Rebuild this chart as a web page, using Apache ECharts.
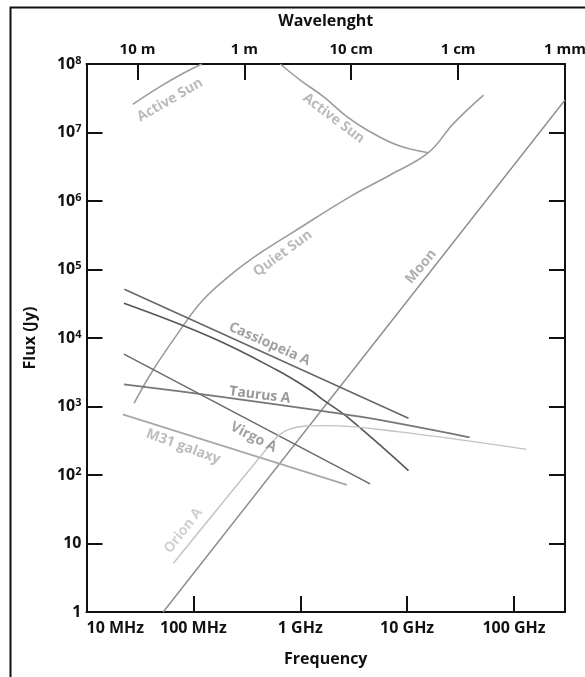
<!DOCTYPE html>
<html>
<head>
<meta charset="utf-8">
<script src="https://cdn.jsdelivr.net/npm/echarts@6/dist/echarts.min.js"></script>
<style>
html,body{margin:0;padding:0;background:#fff;}
#chart{width:585px;height:677px;}
</style>
</head>
<body>
<div id="chart"></div>
<script>
// ---------- tick values / labels ----------
const freqTicks = [1e7, 1e8, 1e9, 1e10, 1e11];                 // Hz
const freqTickLabels = ['10 MHz', '100 MHz', '1 GHz', '10 GHz', '100 GHz'];
const waveTicks = [3e7, 3e8, 3e9, 3e10, 3e11];                 // Hz equivalent of wavelength
const waveTickLabels = ['10 m', '1 m', '10 cm', '1 cm', '1 mm'];
const fluxTicks = [1, 10, 1e2, 1e3, 1e4, 1e5, 1e6, 1e7, 1e8]; // Jy
const freqMin = 1e7, freqMax = 3e11, fluxMin = 1, fluxMax = 1e8;

// ---------- series (frequency in Hz, flux in Jy) ----------
const activeSunLowFreq  = [2.71e7, 4.88e7, 8.05e7, 1.20e8];
const activeSunLowFlux  = [2.58e7, 4.67e7, 7.31e7, 1.0e8];
const activeSunHighFreq = [6.49e8, 9.98e8, 1.65e9, 2.73e9, 4.21e9, 8.04e9, 1.58e10];
const activeSunHighFlux = [1.0e8, 5.83e7, 3.33e7, 1.70e7, 1.09e7, 6.56e6, 5.07e6];
const quietSunFreq = [2.79e7, 4.20e7, 7.00e7, 1.23e8, 2.55e8, 4.21e8, 8.59e8, 2.93e9, 6.93e9, 1.58e10, 2.72e10, 5.19e10];
const quietSunFlux = [1.12e3, 3.41e3, 1.11e4, 3.59e4, 9.84e4, 1.74e5, 3.52e5, 1.16e6, 2.40e6, 5.07e6, 1.36e7, 3.52e7];
const moonFreq = [5.22e7, 3.0e11];
const moonFlux = [1, 2.98e7];
const cassiopeiaFreq = [2.26e7, 1.03e10];
const cassiopeiaFlux = [5.14e4, 673];
const secondSourceFreq = [2.24e7, 1.43e8, 6.04e8, 1.24e9, 1.65e9, 2.73e9, 1.03e10];
const secondSourceFlux = [3.21e4, 1.04e4, 3.41e3, 1.74e3, 1.24e3, 710, 116];
const taurusFreq = [2.24e7, 2.06e8, 3.64e9, 3.84e10];
const taurusFlux = [2.11e3, 1.35e3, 710, 355];
const virgoFreq = [2.24e7, 4.50e9];
const virgoFlux = [5.83e3, 74];
const m31Freq = [2.18e7, 2.73e9];
const m31Flux = [769, 72];
const orionFreq = [6.50e7, 4.22e8, 6.31e8, 7.94e8, 1.12e9, 1.78e9, 8.04e9, 1.30e11];
const orionFlux = [5.14, 185, 380, 468, 519, 525, 429, 237];

// label texts and their anchor points (Hz, Jy) with text angle
const labelTexts  = ['Active Sun', 'Active Sun', 'Quiet Sun', 'Moon', 'Cassiopeia A', 'Taurus A', 'Virgo A', 'M31 galaxy', 'Orion A'];
const labelFreq   = [6.05e7, 2.05e9, 6.87e8, 1.35e10, 5.15e8, 4.19e8, 3.65e8, 8.05e7, 8.05e7];
const labelFlux   = [2.98e7, 1.61e7, 1.72e5, 1.10e5, 8.17e3, 1.47e3, 355, 259, 15.4];
const labelAngle  = [30, -37, 36, 50, -24, -7, -27, -20, 52];
const labelColors = ['#a9a9a9', '#a9a9a9', '#a9a9a9', '#9a9a9a', '#8a8a8a', '#7e7e7e', '#888888', '#ababab', '#c6c6c6'];

// ---------- build ----------
const L = Math.log10;
const FONT = 'Open Sans';
const INK = '#111';
function pairs(fx, fy) { return fx.map((f, i) => [L(f), L(fy[i])]); }
function findLabel(v, vals, labels) {
  for (let i = 0; i < vals.length; i++) if (Math.abs(L(vals[i]) - v) < 1e-6) return labels[i];
  return '';
}
function lineSeries(name, fx, fy, color, width, smooth) {
  return {
    name: name, type: 'line', data: pairs(fx, fy), showSymbol: false, symbol: 'none',
    smooth: smooth, lineStyle: { color: color, width: width }, silent: true, clip: true, z: 3
  };
}

const tickStyle = { color: INK, width: 2 };
const axisLineStyle = { show: true, onZero: false, lineStyle: { color: INK, width: 2 } };
const nameStyle = { fontFamily: FONT, fontWeight: 'bold', fontSize: 16, color: INK };

const option = {
  animation: false,
  backgroundColor: '#fff',
  grid: { left: 86.5, right: 20, top: 64, bottom: 65, outerBoundsMode: 'none', containLabel: false },
  graphic: [{
    type: 'rect', left: 8, top: 5, shape: { width: 640, height: 740 },
    style: { fill: 'none', stroke: INK, lineWidth: 2 }, silent: true
  }],
  xAxis: [{
    type: 'value', position: 'bottom', min: L(freqMin), max: L(freqMax),
    name: 'Frequency', nameLocation: 'middle', nameGap: 39, nameMoveOverlap: false,
    nameTextStyle: nameStyle,
    axisLine: axisLineStyle,
    axisTick: { show: true, inside: true, length: 16, lineStyle: tickStyle, customValues: freqTicks.slice(1).map(L) },
    axisLabel: {
      fontFamily: FONT, fontWeight: 'bold', fontSize: 16, color: INK,
      customValues: freqTicks.map(L), margin: 8, alignMinLabel: 'left', hideOverlap: false,
      formatter: v => findLabel(v, freqTicks, freqTickLabels)
    },
    splitLine: { show: false }
  }, {
    type: 'value', position: 'top', min: L(freqMin), max: L(freqMax),
    name: 'Wavelenght', nameLocation: 'middle', nameGap: 35, nameMoveOverlap: false,
    nameTextStyle: nameStyle,
    axisLine: axisLineStyle,
    axisTick: { show: true, inside: true, length: 16, lineStyle: tickStyle, customValues: waveTicks.slice(0, 4).map(L) },
    axisLabel: {
      fontFamily: FONT, fontWeight: 'bold', fontSize: 15, color: INK,
      customValues: waveTicks.map(L), margin: 7, hideOverlap: false,
      formatter: v => findLabel(v, waveTicks, waveTickLabels)
    },
    splitLine: { show: false }
  }],
  yAxis: [{
    type: 'value', position: 'left', min: L(fluxMin), max: L(fluxMax),
    name: 'Flux (Jy)', nameLocation: 'middle', nameGap: 48, nameRotate: 90, nameMoveOverlap: false,
    nameTextStyle: nameStyle,
    axisLine: axisLineStyle,
    axisTick: { show: true, inside: true, length: 16, lineStyle: tickStyle, customValues: fluxTicks.slice(1, 8).map(L) },
    axisLabel: {
      customValues: fluxTicks.map(L), margin: 5, hideOverlap: false,
      formatter: v => {
        const e = Math.round(v);
        if (e === 0) return '{n|1}';
        if (e === 1) return '{n|10}';
        return '{n|10}{s|' + e + '}';
      },
      rich: {
        n: { fontFamily: FONT, fontWeight: 'bold', fontSize: 16, color: INK, lineHeight: 18 },
        s: { fontFamily: FONT, fontWeight: 'bold', fontSize: 11, color: INK, verticalAlign: 'top', lineHeight: 11, padding: [0, 0, 6, 0] }
      }
    },
    splitLine: { show: false }
  }, {
    type: 'value', position: 'right', min: L(fluxMin), max: L(fluxMax),
    axisLine: axisLineStyle,
    axisTick: { show: true, inside: true, length: 16, lineStyle: tickStyle, customValues: fluxTicks.slice(1, 8).map(L) },
    axisLabel: { show: false },
    splitLine: { show: false }
  }],
  series: [
    lineSeries('Active Sun (low)', activeSunLowFreq, activeSunLowFlux, '#9c9c9c', 1.6, 0.4),
    lineSeries('Active Sun (high)', activeSunHighFreq, activeSunHighFlux, '#9c9c9c', 1.6, 0.4),
    lineSeries('Quiet Sun', quietSunFreq, quietSunFlux, '#9c9c9c', 1.6, 0.4),
    lineSeries('Moon', moonFreq, moonFlux, '#8c8c8c', 1.4, false),
    lineSeries('Cassiopeia A', cassiopeiaFreq, cassiopeiaFlux, '#666', 1.5, false),
    lineSeries('Second source', secondSourceFreq, secondSourceFlux, '#555', 1.6, 0.4),
    lineSeries('Taurus A', taurusFreq, taurusFlux, '#777', 1.8, 0.3),
    lineSeries('Virgo A', virgoFreq, virgoFlux, '#6a6a6a', 1.5, false),
    lineSeries('M31 galaxy', m31Freq, m31Flux, '#a8a8a8', 1.8, false),
    lineSeries('Orion A', orionFreq, orionFlux, '#c2c2c2', 1.4, 0.4),
    {
      name: 'labels', type: 'scatter', symbol: 'circle', symbolSize: 1, silent: true, z: 5,
      itemStyle: { color: 'rgba(0,0,0,0)' },
      data: labelTexts.map((t, i) => ({
        value: [L(labelFreq[i]), L(labelFlux[i])],
        label: {
          show: true, position: 'inside', formatter: t, rotate: labelAngle[i],
          color: labelColors[i], fontFamily: FONT, fontWeight: 'bold', fontSize: 14
        }
      }))
    }
  ]
};

const chart = echarts.init(document.getElementById('chart'), null, { renderer: 'canvas' });
chart.setOption(option);
</script>
</body>
</html>
